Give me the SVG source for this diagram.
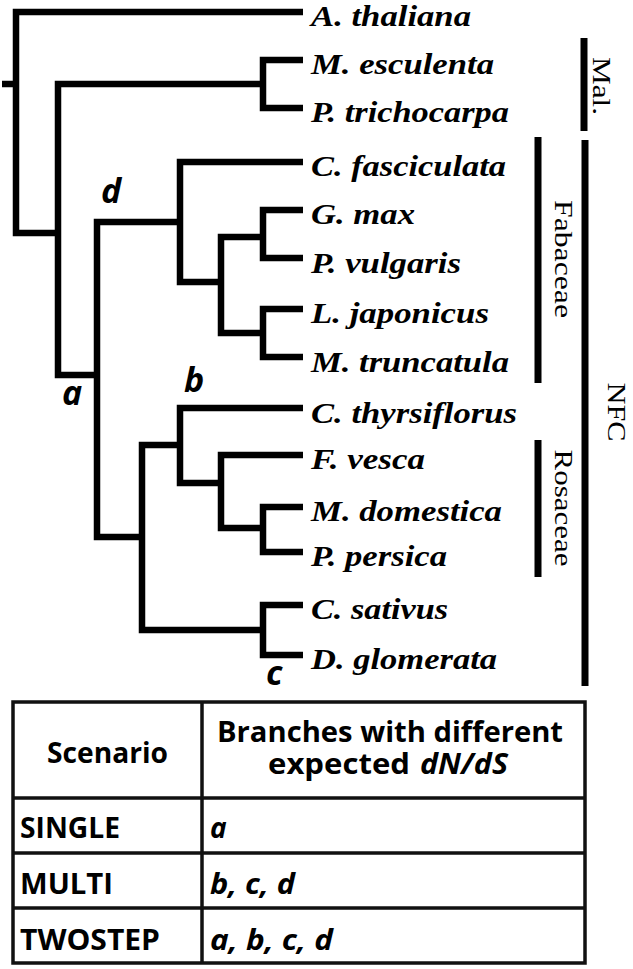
<svg xmlns="http://www.w3.org/2000/svg" width="633" height="969" viewBox="0 0 633 969">
<style>
.br{fill:none;stroke:#000;stroke-width:6.5;stroke-linejoin:miter;stroke-linecap:butt}
.sp{font-family:"Liberation Serif",serif;font-weight:bold;font-style:italic;font-size:30px;fill:#000}
.cl{font-family:"Liberation Serif",serif;font-size:26px;fill:#000}
.nl{font-family:"Open Sans",sans-serif;font-weight:bold;font-style:italic;font-size:34px;fill:#000}
.tb{font-family:"Open Sans",sans-serif;font-weight:bold;font-size:28px;fill:#000}
.th{font-size:29px}
.ti{font-style:italic}
.bar{stroke:#000;stroke-width:7;fill:none}
.grid{stroke:#111;stroke-width:3.5;fill:none}
</style>
<rect width="633" height="969" fill="#fff"/>
<g id="connectors">
<path class="br" d="M2,84 H16"/>
<path class="br" d="M303,12 H16 V233 H58"/>
<path class="br" d="M263,84 H58 V375 H97"/>
<path class="br" d="M303,60 H263 V108 H303"/>
<path class="br" d="M180,222 H97 V537 H142"/>
<path class="br" d="M303,162 H180 V282 H221"/>
<path class="br" d="M263,237 H221 V333 H263"/>
<path class="br" d="M303,210 H263 V258 H303"/>
<path class="br" d="M303,309 H263 V357 H303"/>
<path class="br" d="M180,445 H142 V630 H263"/>
<path class="br" d="M303,408 H180 V483 H221"/>
<path class="br" d="M303,455 H221 V528 H263"/>
<path class="br" d="M303,507 H263 V552 H303"/>
<path class="br" d="M303,605 H263 V655 H303"/>
</g>
<g id="branch-labels">
<text class="nl" x="62" y="405">a</text>
<text class="nl" x="184" y="392">b</text>
<text class="nl" x="266" y="685">c</text>
<text class="nl" x="101" y="203">d</text>
</g>
<g id="leaf-athaliana"><text class="sp" x="311" y="26" textLength="160" lengthAdjust="spacingAndGlyphs">A. thaliana</text></g>
<g id="leaf-mesculenta"><text class="sp" x="311" y="74" textLength="183" lengthAdjust="spacingAndGlyphs">M. esculenta</text></g>
<g id="leaf-ptrichocarpa"><text class="sp" x="311" y="122" textLength="198" lengthAdjust="spacingAndGlyphs">P. trichocarpa</text></g>
<g id="leaf-cfasciculata"><text class="sp" x="311" y="176" textLength="195" lengthAdjust="spacingAndGlyphs">C. fasciculata</text></g>
<g id="leaf-gmax"><text class="sp" x="311" y="224" textLength="104" lengthAdjust="spacingAndGlyphs">G. max</text></g>
<g id="leaf-pvulgaris"><text class="sp" x="311" y="273" textLength="150" lengthAdjust="spacingAndGlyphs">P. vulgaris</text></g>
<g id="leaf-ljaponicus"><text class="sp" x="311" y="323" textLength="178" lengthAdjust="spacingAndGlyphs">L. japonicus</text></g>
<g id="leaf-mtruncatula"><text class="sp" x="311" y="372" textLength="198" lengthAdjust="spacingAndGlyphs">M. truncatula</text></g>
<g id="leaf-cthyrsiflorus"><text class="sp" x="311" y="423" textLength="206" lengthAdjust="spacingAndGlyphs">C. thyrsiflorus</text></g>
<g id="leaf-fvesca"><text class="sp" x="311" y="469" textLength="114" lengthAdjust="spacingAndGlyphs">F. vesca</text></g>
<g id="leaf-mdomestica"><text class="sp" x="311" y="521" textLength="191" lengthAdjust="spacingAndGlyphs">M. domestica</text></g>
<g id="leaf-ppersica"><text class="sp" x="311" y="566" textLength="136" lengthAdjust="spacingAndGlyphs">P. persica</text></g>
<g id="leaf-csativus"><text class="sp" x="311" y="619" textLength="137" lengthAdjust="spacingAndGlyphs">C. sativus</text></g>
<g id="leaf-dglomerata"><text class="sp" x="311" y="669" textLength="186" lengthAdjust="spacingAndGlyphs">D. glomerata</text></g>
<g id="clade-mal">
<line class="bar" x1="584" y1="38" x2="584" y2="131"/>
<text class="cl" transform="translate(593,86) rotate(90)" text-anchor="middle" textLength="58" lengthAdjust="spacingAndGlyphs">Mal.</text>
</g>
<g id="clade-nfc">
<line class="bar" x1="585" y1="140" x2="585" y2="686"/>
<text class="cl" transform="translate(608,412) rotate(90)" text-anchor="middle" textLength="59" lengthAdjust="spacingAndGlyphs">NFC</text>
</g>
<g id="clade-fabaceae">
<line class="bar" x1="538" y1="137" x2="538" y2="383"/>
<text class="cl" transform="translate(555,259) rotate(90)" text-anchor="middle" textLength="118" lengthAdjust="spacingAndGlyphs">Fabaceae</text>
</g>
<g id="clade-rosaceae">
<line class="bar" x1="538" y1="440" x2="538" y2="577"/>
<text class="cl" transform="translate(555,508) rotate(90)" text-anchor="middle" textLength="117" lengthAdjust="spacingAndGlyphs">Rosaceae</text>
</g>
<g id="table">
<rect class="grid" x="13" y="702" width="572" height="261"/>
<line class="grid" x1="202" y1="702" x2="202" y2="963"/>
<line class="grid" x1="13" y1="798" x2="585" y2="798"/>
<line class="grid" x1="13" y1="853" x2="585" y2="853"/>
<line class="grid" x1="13" y1="908" x2="585" y2="908"/>
<text class="tb th" x="47" y="763" textLength="121" lengthAdjust="spacingAndGlyphs">Scenario</text>
<text class="tb th" x="217" y="742" textLength="346" lengthAdjust="spacingAndGlyphs">Branches with different</text>
<text class="tb th" x="268" y="774" textLength="142" lengthAdjust="spacingAndGlyphs">expected</text>
<text class="tb th ti" x="420" y="774" textLength="88" lengthAdjust="spacingAndGlyphs">dN/dS</text>
<text class="tb" x="20" y="838" textLength="100" lengthAdjust="spacingAndGlyphs">SINGLE</text>
<text class="tb" x="20" y="894" textLength="93" lengthAdjust="spacingAndGlyphs">MULTI</text>
<text class="tb" x="20" y="950" textLength="140" lengthAdjust="spacingAndGlyphs">TWOSTEP</text>
<text class="tb ti" x="210" y="838">a</text>
<text class="tb ti" x="210" y="894" textLength="85" lengthAdjust="spacingAndGlyphs">b, c, d</text>
<text class="tb ti" x="210" y="950" textLength="123" lengthAdjust="spacingAndGlyphs">a, b, c, d</text>
</g>
</svg>
